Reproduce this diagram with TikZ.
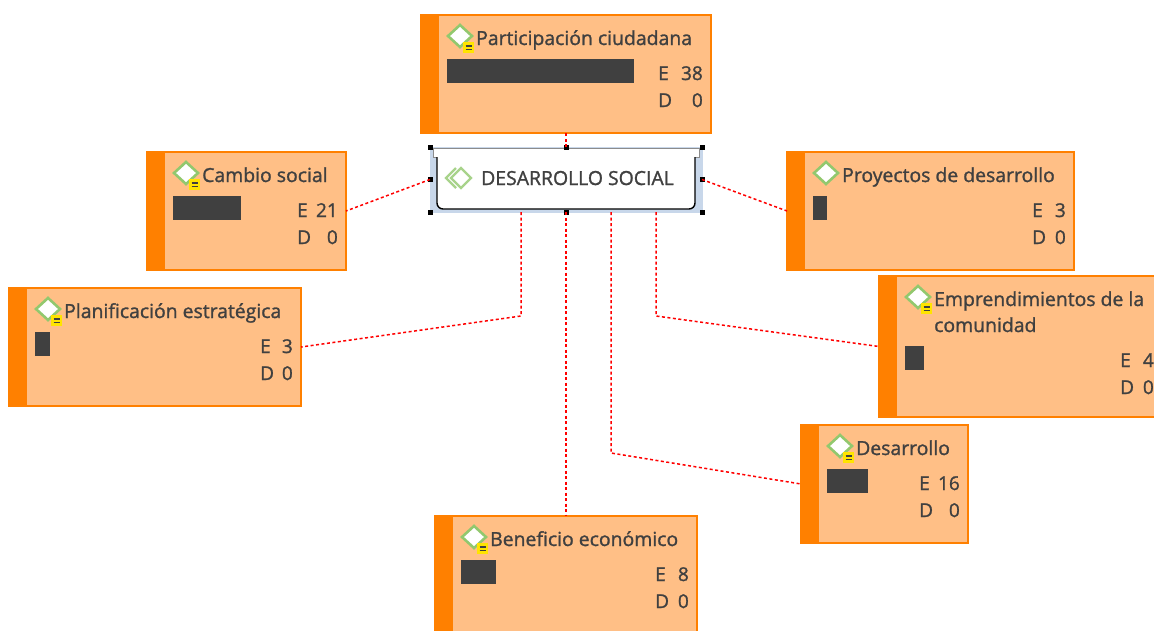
\documentclass[tikz,border=0pt]{standalone}
\usepackage{fontspec}
\setmainfont{Open Sans}
\newfontfamily\semib{Open Sans}[FakeBold=1.3]
\usetikzlibrary{calc}
\definecolor{boxfill}{RGB}{255,191,134}
\definecolor{boxline}{RGB}{255,128,0}
\definecolor{txt}{RGB}{64,64,64}
\definecolor{icongreen}{RGB}{146,200,110}
\definecolor{noteyellow}{RGB}{255,228,0}
\definecolor{selblue}{RGB}{200,215,234}
\newcommand\rowshift{0}
% #1 name #2 left #3 top #4 width #5 height #6 title #7 bar width #8 E number #9 E x
\newcommand\codebox[9]{%
  \coordinate (#1-o) at (#2,#3);
  \node[cbox, minimum width=#4pt, minimum height=#5pt] (#1) at (#1-o) {};
  \fill[boxline] (#1.north west) rectangle ([xshift=18pt]#1.south west);
  \draw[icon] ($(#1-o)+(27,21)$) -- ($(#1-o)+(39,10)$) -- ($(#1-o)+(51,21)$) -- ($(#1-o)+(39,32)$) -- cycle;
  \node[ttl] (#1-t) at ($(#1-o)+(55,30)$) {#6};
  \fill[txt] ($(#1-o)+(26,44+\rowshift)$) rectangle ($(#1-o)+(26+#7,68+\rowshift)$);
  \node[lbl, anchor=base west] (#1-e) at (#9,#3+65+\rowshift) {E};
  \node[lbl, anchor=base east] (#1-en) at ($(#1.north east)+(-8,65+\rowshift)$) {#8};
  \node[lbl, anchor=base west] (#1-d) at (#9,#3+92+\rowshift) {D};
  \node[lbl, anchor=base east] (#1-dn) at ($(#1.north east)+(-8,92+\rowshift)$) {0};
}
\newcommand\noteicon[1]{%
  \fill[noteyellow] ($(#1-o)+(42,27)$) rectangle ($(#1-o)+(53,38)$);
  \draw[txt, line width=1.3pt] ($(#1-o)+(44.5,31)$) -- ($(#1-o)+(50.5,31)$);
  \draw[txt, line width=1.3pt] ($(#1-o)+(44.5,34.5)$) -- ($(#1-o)+(50.5,34.5)$);
}
\begin{document}
\begin{tikzpicture}[x=1pt,y=-1pt,
  cbox/.style={draw=boxline, line width=1.6pt, fill=boxfill, anchor=north west, inner sep=0pt, outer sep=0pt},
  icon/.style={draw=icongreen, line width=2.6pt, fill=white, line join=miter},
  ttl/.style={anchor=base west, inner sep=0pt, text=txt, font=\semib\fontsize{19.4}{26}\selectfont},
  lbl/.style={inner sep=0pt, text=txt, font=\semib\fontsize{19}{24}\selectfont},
  conn/.style={draw=red, line width=1.5pt, dash pattern=on 3pt off 2.5pt},
  handle/.style={fill=black, minimum size=5pt, inner sep=0pt, outer sep=0pt},
]
\useasboundingbox[fill=white] (0,0) rectangle (1154,630);

\codebox{pc}{421}{15}{290}{118}{Participación ciudadana}{187}{38}{658}
\noteicon{pc}
\codebox{cs}{147}{152}{199}{118}{Cambio social}{68}{21}{297}
\noteicon{cs}
\codebox{pd}{787}{152}{287}{118}{Proyectos de desarrollo}{14}{3}{1032}
\codebox{pe}{9}{288}{292}{118}{Planificación estratégica}{15}{3}{260}
\noteicon{pe}
\renewcommand\rowshift{26}
\codebox{em}{879}{276}{283}{141}{Emprendimientos de la}{19}{4}{1120}
\noteicon{em}
\node[ttl] (em-t2) at ($(em-o)+(55,56)$) {comunidad};
\renewcommand\rowshift{0}
\codebox{de}{801}{425}{167}{118}{Desarrollo}{41}{16}{919}
\noteicon{de}
\codebox{be}{435}{516}{262}{124}{Beneficio económico}{35}{8}{655}
\noteicon{be}

% central node
\node[draw=selblue, fill=selblue, line width=1pt, minimum width=272pt, minimum height=65pt, anchor=north west, inner sep=0pt, outer sep=0pt] (ds) at (430,147) {};
\draw[black!45, fill=white, line width=1pt] (433,148.5) rectangle (699,157);
\draw[black, line width=1.4pt, fill=white, rounded corners=6pt] (437,157) -- (437,209) -- (695,209) -- (695,157);
\draw[draw=icongreen!80, line width=2.4pt] (456,168) -- (446,178) -- (456,188);
\draw[draw=icongreen!80, line width=2.4pt] (461,168) -- (451,178) -- (461,188) -- (471,178) -- cycle;
\node[anchor=base west, inner sep=0pt, text=txt, font=\semib\fontsize{19.4}{24}\selectfont] (ds-t) at (481,185) {DESARROLLO SOCIAL};
\foreach \a in {north west,north,north east,west,east,south west,south,south east}
  \node[handle] at (ds.\a) {};

% connectors
\draw[conn] (ds.north) -- (pc.south);
\draw[conn] (ds.west) -- (cs.east);
\draw[conn] (ds.east) -- (pd.west);
\draw[conn] ([xshift=-45pt]ds.south) -- ++(0,104) -- (pe.east);
\draw[conn] (ds.south) -- (be.north);
\draw[conn] ([xshift=45pt]ds.south) -- ++(0,241) -- (de.west);
\draw[conn] ([xshift=90pt]ds.south) -- ++(0,104) -- (em.west);
\end{tikzpicture}
\end{document}
